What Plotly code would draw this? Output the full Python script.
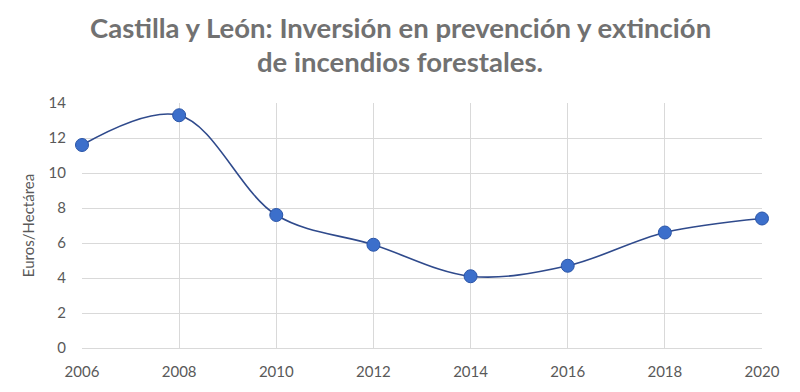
import plotly.graph_objects as go

years = [2006, 2008, 2010, 2012, 2014, 2016, 2018, 2020]
values = [11.6, 13.3, 7.6, 5.9, 4.1, 4.7, 6.6, 7.4]
y_ticks = [0, 2, 4, 6, 8, 10, 12, 14]

title_line1 = "Castilla y León: Inversión en prevención y extinción"
title_line2 = "de incendios forestales."
y_title = "Euros/Hectárea"

FONT = "Lato, 'Open Sans', sans-serif"

fig = go.Figure()
fig.add_trace(go.Scatter(
    x=years, y=values, mode="lines+markers",
    line=dict(shape="spline", smoothing=1.0, color="#2F4A8C", width=1.6),
    marker=dict(size=13, color="#3C6FCB", line=dict(color="#2A55A8", width=1)),
    cliponaxis=False,
    showlegend=False,
))

for txt, ypix in [(title_line1, 27), (title_line2, 61)]:
    fig.add_annotation(text="<b>" + txt + "</b>", xref="paper", yref="paper",
                       x=0.5 - (82 - 38) / 2 / 680, y=1 + (103 - ypix) / 248,
                       xanchor="center", yanchor="middle", showarrow=False,
                       font=dict(size=27.5, color="#717171", family=FONT))

fig.update_layout(
    width=800, height=392,
    margin=dict(l=82, r=38, t=103, b=41),
    paper_bgcolor="white", plot_bgcolor="white",
    font=dict(family=FONT, color="#595959"),
    xaxis=dict(range=[2006, 2020], tickvals=years, ticktext=[str(y) for y in years],
               showgrid=True, gridcolor="#D9D9D9", gridwidth=1,
               showline=True, linecolor="#D9D9D9", zeroline=False,
               ticks="outside", ticklen=10, tickcolor="rgba(0,0,0,0)",
               tickfont=dict(size=15, color="#595959")),
    yaxis=dict(range=[0, 14], tickvals=y_ticks,
               showgrid=True, gridcolor="#D9D9D9", gridwidth=1,
               zeroline=False, showline=False,
               ticks="outside", ticklen=12, tickcolor="rgba(0,0,0,0)",
               tickfont=dict(size=15, color="#595959"),
               title=dict(text=y_title, font=dict(size=15, color="#595959"), standoff=10)),
)

fig.write_html("out.html")
